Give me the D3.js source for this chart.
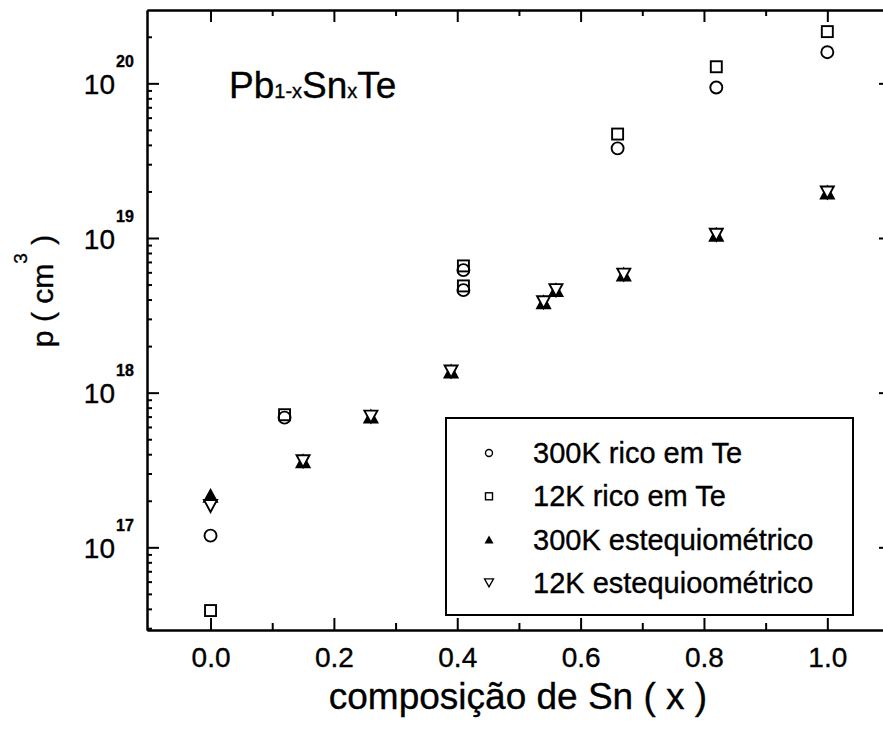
<!DOCTYPE html>
<html>
<head>
<meta charset="utf-8">
<script src="https://cdn.jsdelivr.net/npm/d3@7"></script>
<style>
  body { margin: 0; background: #fff; }
  svg { display: block; font-family: "Liberation Sans", Arial, sans-serif; }
  svg text { stroke: #000; stroke-width: 0.35px; }
</style>
</head>
<body>
<svg class="chart" width="883" height="733"></svg>
<script>
// composição de Sn (x) and p (cm-3)
let xRico300 = [0.0, 0.12, 0.41, 0.41, 0.66, 0.82, 1.0];
let pRico300 = [1.19e17, 6.9e17, 6.2e18, 4.6e18, 3.8e19, 9.4e19, 1.59e20];
let xRico12 = [0.0, 0.12, 0.41, 0.41, 0.66, 0.82, 1.0];
let pRico12 = [3.9e16, 7.2e17, 6.6e18, 4.9e18, 4.7e19, 1.28e20, 2.16e20];
let xEst300 = [0.0, 0.15, 0.26, 0.39, 0.54, 0.56, 0.67, 0.82, 1.0];
let pEst300 = [2.15e17, 3.6e17, 7.0e17, 1.37e18, 3.84e18, 4.6e18, 5.8e18, 1.05e19, 1.97e19];
let xEst12 = [0.0, 0.15, 0.26, 0.39, 0.54, 0.56, 0.67, 0.82, 1.0];
let pEst12 = [1.85e17, 3.6e17, 7.0e17, 1.37e18, 3.84e18, 4.6e18, 5.8e18, 1.05e19, 1.97e19];

let xTicks = [0.0, 0.2, 0.4, 0.6, 0.8, 1.0];
let xMinorTicks = [0.1, 0.3, 0.5, 0.7, 0.9];
let yTicks = [1e17, 1e18, 1e19, 1e20];
let legendLabels = ["300K rico em Te", "12K rico em Te", "300K estequiométrico", "12K estequioométrico"];

window.onload = function() {
  let svg = d3.select('.chart');
  let font = '"Liberation Sans", Arial, sans-serif';

  let x = d3.scaleLinear().domain([-0.103, 1.1]).range([147, 889]);
  let y = d3.scaleLog().domain([2.92e16, 2.98e20]).range([630, 10]);

  // minor log ticks 2..9 in each decade
  let yMinor = [];
  for (let e = 16; e <= 20; e++) {
    for (let m = 2; m <= 9; m++) {
      let v = m * Math.pow(10, e);
      if (v > y.domain()[0] && v < y.domain()[1]) yMinor.push(v);
    }
  }

  function styleAxis(g) {
    g.attr('font-family', font).attr('font-size', 28);
    g.select('.domain').attr('stroke-width', 2);
    g.selectAll('.tick line').attr('stroke-width', 2);
    g.selectAll('.tick text').attr('fill', '#000');
  }

  // bottom
  svg.append('g').attr('transform', 'translate(0,630)')
    .call(d3.axisBottom(x).tickValues(xMinorTicks).tickSize(-7).tickSizeOuter(0).tickFormat(''))
    .call(styleAxis);
  svg.append('g').attr('transform', 'translate(0,630)')
    .call(d3.axisBottom(x).tickValues(xTicks).tickSize(-12).tickSizeOuter(0).tickPadding(17).tickFormat(d3.format('.1f')))
    .call(styleAxis);
  // top
  svg.append('g').attr('transform', 'translate(0,10)')
    .call(d3.axisTop(x).tickValues(xMinorTicks).tickSize(-6).tickSizeOuter(0).tickFormat(''))
    .call(styleAxis);
  svg.append('g').attr('transform', 'translate(0,10)')
    .call(d3.axisTop(x).tickValues(xTicks).tickSize(-12).tickSizeOuter(0).tickFormat(''))
    .call(styleAxis);
  // left
  svg.append('g').attr('transform', 'translate(147,0)')
    .call(d3.axisLeft(y).tickValues(yMinor).tickSize(-5).tickSizeOuter(0).tickFormat(''))
    .call(styleAxis);
  let left = svg.append('g').attr('transform', 'translate(147,0)')
    .call(d3.axisLeft(y).tickValues(yTicks).tickSize(-12).tickSizeOuter(0).tickFormat(''))
    .call(styleAxis);
  left.selectAll('.tick').append('text')
    .attr('x', -32).attr('y', 10)
    .attr('text-anchor', 'end').attr('fill', '#000')
    .attr('font-size', 28)
    .text('10');
  left.selectAll('.tick').append('text')
    .attr('x', -31).attr('y', -17)
    .attr('text-anchor', 'start').attr('fill', '#000')
    .attr('font-size', 16).attr('font-weight', 'bold')
    .text(function(d) { return Math.round(Math.log10(d)); });
  // right
  svg.append('g').attr('transform', 'translate(889,0)')
    .call(d3.axisRight(y).tickValues(yMinor).tickSize(-5).tickSizeOuter(0).tickFormat(''))
    .call(styleAxis);
  svg.append('g').attr('transform', 'translate(889,0)')
    .call(d3.axisRight(y).tickValues(yTicks).tickSize(-10).tickSizeOuter(0).tickFormat(''))
    .call(styleAxis);

  // axis titles
  svg.append('text')
    .attr('x', 518).attr('y', 709)
    .attr('text-anchor', 'middle')
    .style('font-size', '37px')
    .text('composição de Sn ( x )');

  let yt = svg.append('text')
    .attr('transform', 'translate(53,291) rotate(-90)')
    .attr('text-anchor', 'middle')
    .style('font-size', '30px');
  yt.append('tspan').text('p ( cm');
  yt.append('tspan').attr('dy', -26).style('font-size', '19px').text('3');
  yt.append('tspan').attr('dy', 26).text(' )');

  // compound label
  let title = svg.append('text').attr('x', 229).attr('y', 98).style('font-size', '37px');
  title.append('tspan').text('Pb');
  title.append('tspan').style('font-size', '20px').text('1-x');
  title.append('tspan').text('Sn');
  title.append('tspan').style('font-size', '20px').text('x');
  title.append('tspan').text('Te');

  // markers
  function tri(w, h, up) {
    let pts = up
      ? [[0, -h / 2], [w / 2, h / 2], [-w / 2, h / 2]]
      : [[-w / 2, -h / 2], [w / 2, -h / 2], [0, h / 2]];
    return d3.line()(pts) + 'Z';
  }
  function pairs(xs, ps) {
    return xs.map(function(v, i) { return {x: v, p: ps[i]}; });
  }

  let marks = svg.append('g').attr('stroke', '#000').attr('stroke-width', 1.9);

  marks.selectAll('circle.rico300').data(pairs(xRico300, pRico300)).enter().append('circle')
    .attr('class', 'rico300')
    .attr('cx', function(d) { return x(d.x); })
    .attr('cy', function(d) { return y(d.p); })
    .attr('r', 6)
    .attr('fill', 'none');

  marks.selectAll('rect.rico12').data(pairs(xRico12, pRico12)).enter().append('rect')
    .attr('class', 'rico12')
    .attr('x', function(d) { return x(d.x) - 5.5; })
    .attr('y', function(d) { return y(d.p) - 5.5; })
    .attr('width', 11).attr('height', 11)
    .attr('fill', 'none');

  marks.selectAll('path.est300').data(pairs(xEst300, pEst300)).enter().append('path')
    .attr('class', 'est300')
    .attr('d', tri(13, 12, true))
    .attr('transform', function(d) { return 'translate(' + x(d.x) + ',' + y(d.p) + ')'; })
    .attr('fill', '#000');

  marks.selectAll('path.est12').data(pairs(xEst12, pEst12)).enter().append('path')
    .attr('class', 'est12')
    .attr('d', tri(13, 12, false))
    .attr('transform', function(d) { return 'translate(' + x(d.x) + ',' + y(d.p) + ')'; })
    .attr('fill', '#fff');

  // legend
  let legend = svg.append('g').attr('transform', 'translate(446,418)');
  legend.append('rect')
    .attr('width', 407).attr('height', 197)
    .attr('fill', 'none').attr('stroke', '#000').attr('stroke-width', 2);

  let rows = legend.selectAll('g.row').data(legendLabels).enter().append('g')
    .attr('class', 'row')
    .attr('transform', function(d, i) { return 'translate(43,' + (35 + i * 43.3) + ')'; });

  rows.append('text')
    .attr('x', 44).attr('y', 10)
    .style('font-size', '29px')
    .text(function(d) { return d; });

  rows.each(function(d, i) {
    let g = d3.select(this);
    if (i === 0) {
      g.append('circle').attr('r', 3.5).attr('fill', 'none').attr('stroke', '#000').attr('stroke-width', 1.4);
    } else if (i === 1) {
      g.append('rect').attr('x', -3.5).attr('y', -3.5).attr('width', 7).attr('height', 7)
        .attr('fill', 'none').attr('stroke', '#000').attr('stroke-width', 1.4);
    } else if (i === 2) {
      g.append('path').attr('d', tri(9, 8, true)).attr('fill', '#000');
    } else {
      g.append('path').attr('d', tri(9, 8, false)).attr('fill', 'none').attr('stroke', '#000').attr('stroke-width', 1.3);
    }
  });
};
</script>
</body>
</html>
